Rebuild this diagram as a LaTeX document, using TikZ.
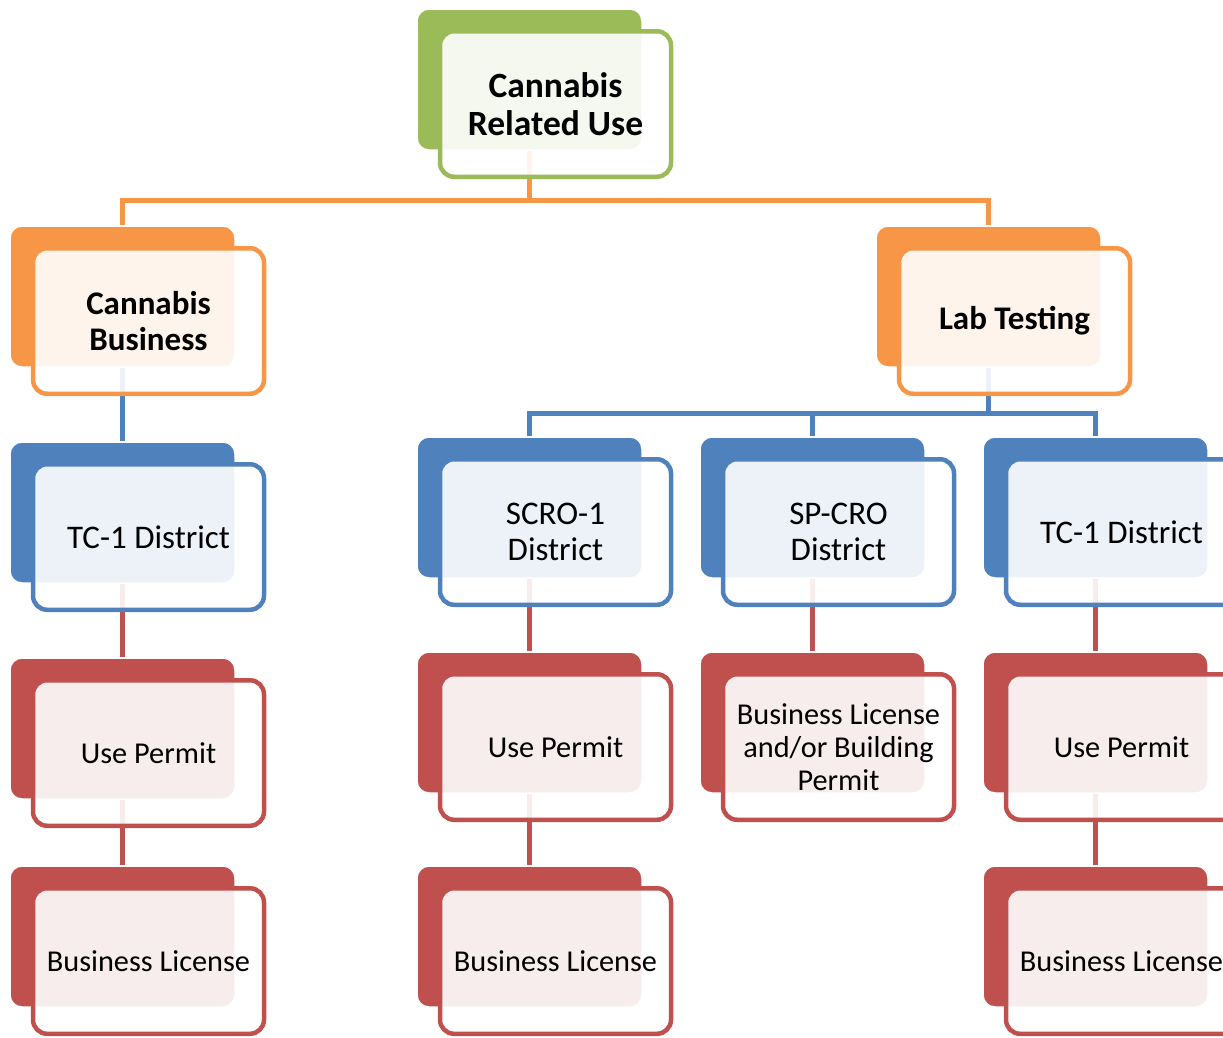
\documentclass[tikz,border=0pt]{standalone}
\usepackage{fontspec}
\setmainfont{Carlito}
\definecolor{cgreen}{HTML}{9BBB59}
\definecolor{corange}{HTML}{F79646}
\definecolor{cblue}{HTML}{4F81BD}
\definecolor{cred}{HTML}{C0504D}
\pgfdeclarelayer{bg}
\pgfsetlayers{bg,main}
\tikzset{
  backbox/.style={rectangle, rounded corners=12pt, minimum width=225pt, minimum height=141pt,
    draw=white, line width=1.5pt, inner sep=0pt},
  frontbox/.style={rectangle, rounded corners=14pt, minimum width=231pt, minimum height=145.5pt,
    line width=4.5pt, fill=white, fill opacity=0.9, text opacity=1, inner sep=0pt, align=center},
  link/.style={line width=5pt},
  lvlone/.style={font=\fontsize{35.5}{38}\selectfont\bfseries},
  lvltwo/.style={font=\fontsize{33}{36}\selectfont\bfseries},
  lvlthree/.style={font=\fontsize{33}{36}\selectfont},
  lvlfour/.style={font=\fontsize{30.3}{33}\selectfont},
}
% #1 name, #2 back left x, #3 back top y, #4 colour, #5 text style, #6 text
\newcommand\mkorgbox[6]{%
  \node[backbox, fill=#4] (#1B) at (#2+112.5, #3+70.5) {};
  \node[frontbox, draw=#4, #5] (#1) at (#2+138.5, #3+95) {#6};
}
\begin{document}
\begin{tikzpicture}[x=1pt,y=-1pt]
\useasboundingbox (0,0) rectangle (1223,1037);
\clip (0,0) rectangle (1223,1037);

\mkorgbox{top}{417}{9}{cgreen}{lvlone}{Cannabis\\Related Use}
\mkorgbox{cb}{10}{226}{corange}{lvltwo}{Cannabis\\Business}
\mkorgbox{lt}{876}{226}{corange}{lvltwo}{Lab Testing}
\mkorgbox{tcA}{10}{442}{cblue}{lvlthree}{TC-1 District}
\mkorgbox{scro}{417}{437}{cblue}{lvlthree}{SCRO-1\\District}
\mkorgbox{spcro}{700}{437}{cblue}{lvlthree}{SP-CRO\\District}
\mkorgbox{tcB}{983}{437}{cblue}{lvlthree}{TC-1 District}
\mkorgbox{upA}{10}{658}{cred}{lvlfour}{Use Permit}
\mkorgbox{upB}{417}{652}{cred}{lvlfour}{Use Permit}
\mkorgbox{blp}{700}{652}{cred}{lvlfour}{Business License\\and/or Building\\Permit}
\mkorgbox{upC}{983}{652}{cred}{lvlfour}{Use Permit}
\mkorgbox{blA}{10}{866}{cred}{lvlfour}{Business License}
\mkorgbox{blB}{417}{866}{cred}{lvlfour}{Business License}
\mkorgbox{blC}{983}{866}{cred}{lvlfour}{Business License}

\begin{pgfonlayer}{bg}
  \draw[link, corange] (topB.south) -- ++(0,50) -| (cbB.north);
  \draw[link, corange] (topB.south) -- ++(0,50) -| (ltB.north);
  \draw[link, cblue] (cbB.south) -- (tcAB.north);
  \draw[link, cblue] (ltB.south) -- ++(0,46) -| (scroB.north);
  \draw[link, cblue] (ltB.south) -- ++(0,46) -| (spcroB.north);
  \draw[link, cblue] (ltB.south) -- ++(0,46) -| (tcBB.north);
  \draw[link, cred] (tcAB.south) -- (upAB.north);
  \draw[link, cred] (upAB.south) -- (blAB.north);
  \draw[link, cred] (scroB.south) -- (upBB.north);
  \draw[link, cred] (upBB.south) -- (blBB.north);
  \draw[link, cred] (spcroB.south) -- (blpB.north);
  \draw[link, cred] (tcBB.south) -- (upCB.north);
  \draw[link, cred] (upCB.south) -- (blCB.north);
\end{pgfonlayer}
\end{tikzpicture}
\end{document}
